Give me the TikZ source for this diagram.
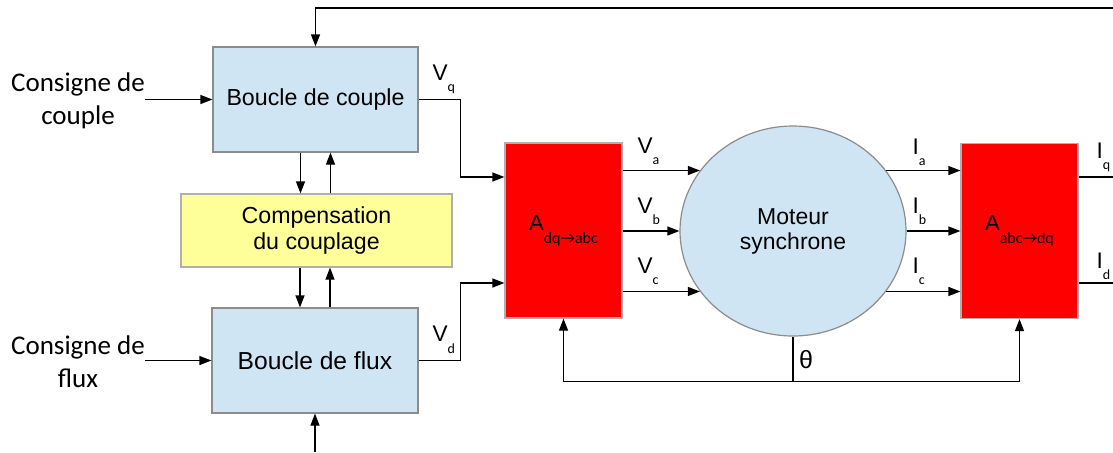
\documentclass[tikz,border=0pt]{standalone}
\usepackage{fontspec}
\setmainfont{Liberation Sans}
\newfontfamily\calfont{Carlito}
\usetikzlibrary{arrows.meta,shapes.geometric}
\definecolor{boxblue}{HTML}{CFE5F3}
\definecolor{boxyellow}{HTML}{FFFF99}
\definecolor{boxred}{HTML}{FF0000}
\definecolor{boxedge}{HTML}{8C8C8C}
\newcommand{\sgn}[2]{#1\raisebox{-5.75pt}{\fontsize{7}{8}\calfont #2}}
\newcommand{\trf}[2]{A\raisebox{-6.5pt}{\fontsize{8}{9}\calfont #1→#2}}
\begin{document}
\begin{tikzpicture}[x=0.5pt,y=-0.5pt,>={Triangle[length=6pt,width=4.5pt]},
  line width=0.6pt,
  every node/.style={inner sep=0pt},
  blk/.style={draw=boxedge,fill=boxblue,font=\fontsize{11.6}{13}\selectfont},
  cmp/.style={draw=boxedge!70,fill=boxyellow,align=center,
    font=\fontsize{11.6}{12.8}\selectfont},
  trb/.style={draw=boxedge!70,fill=boxred,minimum width=58.5pt,minimum height=87.5pt,
    font=\fontsize{11}{13}\selectfont},
  mot/.style={ellipse,draw=boxedge,fill=boxblue,minimum width=113pt,minimum height=105pt,
    align=center,font=\fontsize{11.5}{12.5}\selectfont},
  txt/.style={align=center,font=\fontsize{13.5}{16.5}\calfont},
  sig/.style={anchor=base west,font=\fontsize{11.3}{13}\selectfont}]
  \useasboundingbox (0,0) rectangle (1113,452);
  % blocks
  \node[blk,minimum width=102.5pt,minimum height=52.5pt] (couple) at (315.5,99.5) {Boucle de couple};
  \node[cmp,minimum width=135.5pt,minimum height=36.5pt] (comp) at (316.5,230.5) {Compensation\\du couplage};
  \node[blk,minimum width=103pt,minimum height=52.5pt,font=\fontsize{12.3}{14}\selectfont] (flux) at (315,360.5) {Boucle de flux};
  \node[txt] (cc) at (78,101) {Consigne de\\couple};
  \node[txt] (cf) at (78,362) {Consigne de\\flux};
  \node[trb] (dqabc) at (563.5,230.5) {\trf{dq}{abc}};
  \node[trb] (abcdq) at (1019.5,231) {\trf{abc}{dq}};
  \node[mot] (moteur) at (793,231) {Moteur\\synchrone};
  \coordinate (fb) at (1113,8);
  \coordinate (fin) at (315,452);
  \coordinate (iqout) at (1113,177);
  \coordinate (idout) at (1113,283);
  % connectors
  \draw[->] (fb) -| (couple.north);
  \draw[->] (fin) -- (flux.south);
  \draw[->] (cc.east |- couple.west) -- (couple.west);
  \draw[->] (cf.east |- flux.west) -- (flux.west);
  \draw[->] ([xshift=-7.5pt]couple.south) -- ([xshift=-7.5pt]couple.south |- comp.north);
  \draw[->] ([xshift=7.5pt]couple.south |- comp.north) -- ([xshift=7.5pt]couple.south);
  \draw[->] ([xshift=-7.5pt]flux.north |- comp.south) -- ([xshift=-7.5pt]flux.north);
  \draw[->] ([xshift=7.5pt]flux.north) -- ([xshift=7.5pt]flux.north |- comp.south);
  \draw[->] (couple.east) -- ++(42,0) |- ([yshift=26.75pt]dqabc.west);
  \draw[->] (flux.east) -- ++(42,0) |- ([yshift=-26.25pt]dqabc.west);
  \draw[->] (dqabc.east |- moteur.147) -- (moteur.147);
  \draw[->] (dqabc.east |- moteur.west) -- (moteur.west);
  \draw[->] (dqabc.east |- moteur.213) -- (moteur.213);
  \draw[->] (moteur.33) -- (moteur.33 -| abcdq.west);
  \draw[->] (moteur.east) -- (moteur.east -| abcdq.west);
  \draw[->] (moteur.327) -- (moteur.327 -| abcdq.west);
  \draw (abcdq.east |- iqout) -- (iqout);
  \draw (abcdq.east |- idout) -- (idout);
  \draw[->] (moteur.south) -- ++(0,45) -| (dqabc.south);
  \draw[->] (moteur.south) ++(0,45) -| (abcdq.south);
  % labels
  \node[sig] (vq) at (432,80) {\sgn{V}{q}};
  \node[sig] (vd) at (432,341.5) {\sgn{V}{d}};
  \node[sig] (va) at (637,153) {\sgn{V}{a}};
  \node[sig] (vb) at (637,213) {\sgn{V}{b}};
  \node[sig] (vc) at (637,273) {\sgn{V}{c}};
  \node[sig] (ia) at (912,154) {\sgn{I}{a}};
  \node[sig] (ib) at (912,213) {\sgn{I}{b}};
  \node[sig] (ic) at (912,273) {\sgn{I}{c}};
  \node[sig] (iq) at (1096,158) {\sgn{I}{q}};
  \node[sig] (id) at (1096,268) {\sgn{I}{d}};
  \node[font=\fontsize{12.5}{14}\selectfont] (theta) at (806,360) {θ};
\end{tikzpicture}
\end{document}
